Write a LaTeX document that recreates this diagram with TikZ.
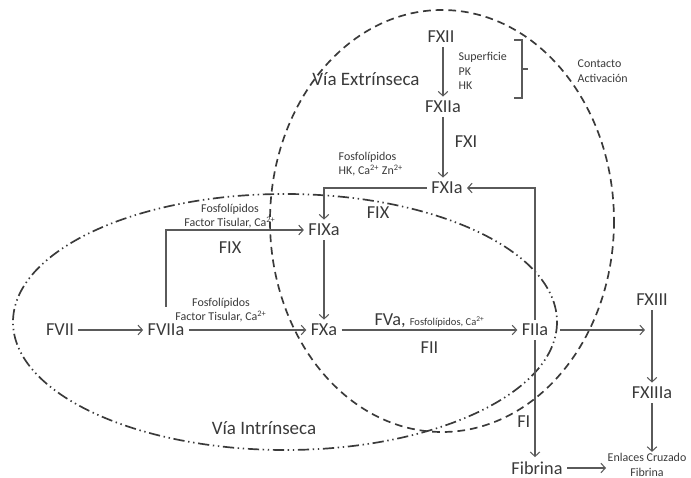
\documentclass[tikz,border=0pt]{standalone}
\usepackage{fontspec}
\setmainfont{Carlito}
\usepackage{tikz}
\usetikzlibrary{arrows.meta,calc}
\definecolor{inkgray}{HTML}{3A3A3A}
\definecolor{linegray}{HTML}{5A5A5A}
\newcommand{\sups}[1]{\textsuperscript{#1}}

\begin{document}
\begin{tikzpicture}[x=0.025cm,y=-0.025cm,
 fac/.style={inner sep=3pt,text=inkgray,font=\fontsize{13}{15}\selectfont},
 note/.style={inner sep=1pt,text=inkgray,align=center,font=\fontsize{8.5}{10.3}\selectfont},
 ar/.style={-{Straight Barb[length=1.1mm,width=2.4mm]},draw=linegray,line width=0.75pt},
 extr/.style={draw=inkgray,line width=1.2pt,dash pattern=on 5.5pt off 3.5pt},
 intr/.style={draw=inkgray,line width=1.2pt,dash pattern=on 8pt off 2.6pt on 1pt off 2.6pt on 1pt off 2.6pt}]
\useasboundingbox (0,0) rectangle (691,478);
% las dos vias
\draw[extr] (442,221) ellipse [x radius=172,y radius=211];
\draw[intr] (285,322) ellipse [x radius=272,y radius=128];
\node[fac,font=\fontsize{13.5}{15}\selectfont] (vext) at (366,79) {Vía Extrínseca};
\node[fac,font=\fontsize{13.5}{15}\selectfont] (vint) at (264,428) {Vía Intrínseca};
% factores
\node[fac] (fxii) at (441,37) {FXII};
\node[fac] (fxiia) at (443,107) {FXIIa};
\node[fac] (fxia) at (447,188) {FXIa};
\node[fac] (fixa) at (324,230) {FIXa};
\node[fac] (fvii) at (60,330) {FVII};
\node[fac] (fviia) at (166,330) {FVIIa};
\node[fac] (fxa) at (324,330) {FXa};
\node[fac] (fiia) at (535,330) {FIIa};
\node[fac] (fxiii) at (652,300) {FXIII};
\node[fac] (fxiiia) at (652,393) {FXIIIa};
\node[fac] (fib) at (537,468) {Fibrina};
\node[note] (enl) at (647,465) {Enlaces Cruzado\\Fibrina};
% cofactores
\node[note,align=left,anchor=west] (sup) at (457,71) {Superficie\\PK\\HK};
\node[note,align=left,anchor=west] (cont) at (576,71) {Contacto\\Activación};
\node[note,align=left,anchor=west] (fhk) at (337,164) {Fosfolípidos\\HK, Ca\sups{2+} Zn\sups{2+}};
\node[note] (ftup) at (230,216) {Fosfolípidos\\Factor Tisular, Ca\sups{2+}};
\node[note] (ftlo) at (221,310) {Fosfolípidos\\Factor Tisular, Ca\sups{2+}};
\node[fac] (fixup) at (378,213) {FIX};
\node[fac] (fixlo) at (230,248) {FIX};
\node[fac] (fxi) at (466,142) {FXI};
\draw[linegray,line width=0.75pt] (514,40) -- (522,40) -- (522,98) -- (514,98) (522,69) -- (528,69);
% cascada
\draw[ar] (fxii.south -| fxiia) -- (fxiia.north);
\draw[ar] (fxiia) -- (fxiia |- fxia.north);
\draw[ar] (fxia.west) -| (fixa.north);
\draw[ar] (fiia.north) |- (fxia.east);
\draw[ar] (fvii) -- (fviia);
\draw[ar] (fviia) -- (fxa);
\draw[ar,shorten <=9pt] (fviia.north) |- (fixa.west);
\draw[ar] (fixa) -- (fxa);
\draw[ar] (fxa) -- node[above=0pt,inner sep=1pt,text=inkgray]{\fontsize{13}{15}\selectfont FVa, \fontsize{7.5}{9}\selectfont Fosfolípidos, Ca\sups{2+}} node[fac,below=5pt]{FII} (fiia);
\draw[ar] (fiia) -- node[fac,pos=0.7,left=0pt]{FI} (fiia |- fib.north);
\draw[ar,shorten <=5pt,shorten >=5pt] (fiia) -- (fiia -| fxiii);
\draw[ar] (fxiii) -- (fxiiia);
\draw[ar] (fxiiia) -- (fxiiia |- enl.north);
\draw[ar] (fib.east) -- (fib.east -| enl.west);
\end{tikzpicture}
\end{document}
